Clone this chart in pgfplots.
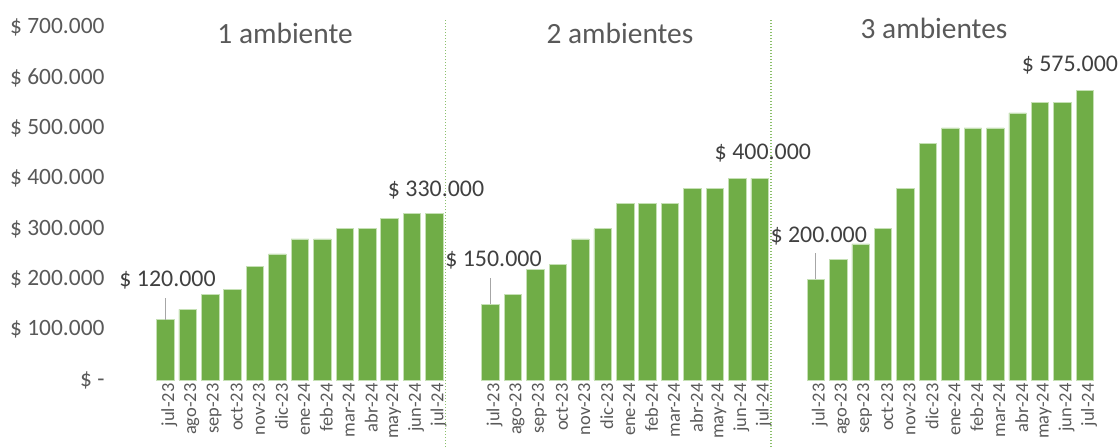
\documentclass[border=0pt]{standalone}
\usepackage{pgfplots}
\pgfplotsset{compat=1.18}
\usepackage{fontspec}
\setmainfont{Carlito}
\definecolor{bargreen}{HTML}{70AD47}
\definecolor{baredge}{HTML}{C5E0B4}
\definecolor{sepgreen}{HTML}{8CC06C}
\definecolor{txt}{HTML}{595959}
\definecolor{lbl}{HTML}{404040}
\definecolor{lead}{HTML}{A6A6A6}
\begin{document}
\begin{tikzpicture}
\begin{axis}[
  at={(120bp,68bp)}, anchor=south west,
  scale only axis, width=980bp, height=352.8bp,
  xmin=-2.02, xmax=41.67, ymin=0, ymax=700000,
  clip=false, scaled y ticks=false, scaled x ticks=false,
  axis line style={draw=none}, tick style={draw=none},
  major tick length=0pt,
  ytick={0,100000,200000,300000,400000,500000,600000,700000},
  yticklabels={{\$ -\hspace{11bp}},{\$ 100.000},{\$ 200.000},{\$ 300.000},{\$ 400.000},{\$ 500.000},{\$ 600.000},{\$ 700.000}},
  yticklabel style={font=\fontsize{23.5}{26}\selectfont, text=txt, anchor=east, xshift=-12bp},
  xtick={0,1,2,3,4,5,6,7,8,9,10,11,12,14.5,15.5,16.5,17.5,18.5,19.5,20.5,21.5,22.5,23.5,24.5,25.5,26.5,29,30,31,32,33,34,35,36,37,38,39,40,41},
  xticklabels={jul-23,ago-23,sep-23,oct-23,nov-23,dic-23,ene-24,feb-24,mar-24,abr-24,may-24,jun-24,jul-24,
               jul-23,ago-23,sep-23,oct-23,nov-23,dic-23,ene-24,feb-24,mar-24,abr-24,may-24,jun-24,jul-24,
               jul-23,ago-23,sep-23,oct-23,nov-23,dic-23,ene-24,feb-24,mar-24,abr-24,may-24,jun-24,jul-24},
  xticklabel style={font=\fontsize{18.5}{20}\selectfont, text=txt, rotate=90, anchor=east, yshift=-4bp},
]
% panel 1: 1 ambiente
\addplot[ybar, bar width=17.5bp, fill=bargreen, draw=baredge, line width=0.75bp] table {
x y
0 120000
1 140000
2 170000
3 180000
4 225000
5 250000
6 280000
7 280000
8 300000
9 300000
10 320000
11 330000
12 330000
};
% panel 2: 2 ambientes
\addplot[ybar, bar width=17.5bp, fill=bargreen, draw=baredge, line width=0.75bp] table {
x y
14.5 150000
15.5 170000
16.5 220000
17.5 230000
18.5 280000
19.5 300000
20.5 350000
21.5 350000
22.5 350000
23.5 380000
24.5 380000
25.5 400000
26.5 400000
};
% panel 3: 3 ambientes
\addplot[ybar, bar width=17.5bp, fill=bargreen, draw=baredge, line width=0.75bp] table {
x y
29 200000
30 240000
31 270000
32 300000
33 380000
34 470000
35 500000
36 500000
37 500000
38 530000
39 550000
40 550000
41 575000
};
% separators
\addplot[sepgreen, dash pattern=on 1.5bp off 1.5bp, line width=1.2bp] coordinates {(12.5,-133000) (12.5,714000)};
\addplot[sepgreen, dash pattern=on 1.5bp off 1.5bp, line width=1.2bp] coordinates {(27,-133000) (27,714000)};
% leader lines
\addplot[lead, line width=1bp] coordinates {(0,120000) (0,162700)};
\addplot[lead, line width=1bp] coordinates {(14.5,150000) (14.5,202400)};
\addplot[lead, line width=1bp] coordinates {(29,200000) (29,252000)};
% data labels
\addplot[draw=none, mark=none, nodes near coords, point meta=explicit symbolic,
  every node near coord/.style={font=\fontsize{24}{27}\selectfont, text=lbl, anchor=center}]
  coordinates {
  (0.1,198400) [\$ 120.000]
  (12.07,377000) [\$ 330.000]
  (14.63,238000) [\$ 150.000]
  (26.64,450000) [\$ 400.000]
  (29.13,285000) [\$ 200.000]
  (40.33,625000) [\$ 575.000]
  };
% panel titles
\addplot[draw=none, mark=none, nodes near coords, point meta=explicit symbolic,
  every node near coord/.style={font=\fontsize{29.5}{32}\selectfont, text=txt, anchor=center}]
  coordinates {
  (5.34,688500) [1 ambiente]
  (20.27,688500) [2 ambientes]
  (34.27,698400) [3 ambientes]
  };
\end{axis}
\pgfresetboundingbox
\path (0,0) rectangle (1120bp,448bp);
\end{tikzpicture}
\end{document}
